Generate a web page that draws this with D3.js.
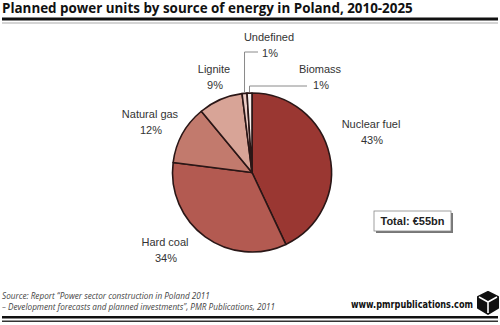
<!DOCTYPE html>
<head>
    <meta charset="utf-8">
    <title>Planned power units by source of energy in Poland</title>
    <style>
        body { margin: 0; background: #fff; }
        text { font-family: "Liberation Sans", Arial, sans-serif; }
    </style>
    <script src="https://d3js.org/d3.v7.min.js"></script>
</head>
<body>
    <script>
        var categories = ["Nuclear fuel", "Hard coal", "Natural gas", "Lignite", "Undefined", "Biomass"];
        var shares = [43, 34, 12, 9, 1, 1];
        var colors = ["#9a3732", "#b35a51", "#c27a6d", "#d8a497", "#edcdc6", "#f8f0ee"];
        // label anchor (centre of the two text lines)
        var labelPos = [[371, 128], [165, 246], [150, 118], [214, 73], [269, 41], [320, 73]];
        var leader = [false, false, false, false, [258, 52], [307, 86]];

        var width = 500, height = 325;
        var cx = 252, cy = 172.5, r = 79.5;

        var svg = d3.select("body")
            .append("svg")
            .attr("width", width)
            .attr("height", height);

        // title + rules
        svg.append("text")
            .attr("x", 2)
            .attr("y", 13)
            .style("font-family", "'Open Sans', sans-serif")
            .style("font-weight", "bold")
            .style("font-size", "13.4px")
            .attr("fill", "#111")
            .text("Planned power units by source of energy in Poland, 2010-2025");

        svg.append("rect").attr("x", 2).attr("y", 17.5).attr("width", 496).attr("height", 3).attr("fill", "#111");
        svg.append("rect").attr("x", 2).attr("y", 22.5).attr("width", 496).attr("height", 1).attr("fill", "#aaa");

        var data = categories.map(function (c, i) {
            return { name: c, value: shares[i], color: colors[i], pos: labelPos[i], leader: leader[i] };
        });

        var pie = d3.pie()
            .value(function (d) { return d.value; })
            .sort(null);

        var arc = d3.arc()
            .innerRadius(0)
            .outerRadius(r);

        var plot = svg.append("g")
            .attr("transform", "translate(" + cx + "," + cy + ")");

        var arcs = pie(data);

        plot.selectAll("path")
            .data(arcs)
            .enter()
            .append("path")
            .attr("d", arc)
            .attr("fill", function (d) { return d.data.color; })
            .attr("stroke", "#2a1616")
            .attr("stroke-width", 1.6)
            .attr("stroke-linejoin", "round");

        // leader lines for the small slices
        arcs.forEach(function (d) {
            if (!d.data.leader) return;
            var a = (d.startAngle + d.endAngle) / 2;
            var x0 = cx + r * Math.sin(a), y0 = cy - r * Math.cos(a);
            var end = d.data.leader;
            svg.append("polyline")
                .attr("points", [[x0, y0 - 1], [x0, end[1]], [end[0], end[1]]].map(function (p) { return p.join(","); }).join(" "))
                .attr("fill", "none")
                .attr("stroke", "#8a8a8a")
                .attr("stroke-width", 1);
        });

        var labels = svg.append("g");
        data.forEach(function (d) {
            var t = labels.append("text")
                .attr("text-anchor", "middle")
                .attr("fill", "#333")
                .style("font-size", "11px");
            t.append("tspan").attr("x", d.pos[0]).attr("y", d.pos[1]).text(d.name);
            t.append("tspan").attr("x", d.pos[0] + 1).attr("y", d.pos[1] + 15.5).text(d.value + "%");
        });

        // total box
        svg.append("rect").attr("x", 376).attr("y", 213).attr("width", 77).attr("height", 20).attr("fill", "#777");
        svg.append("rect").attr("x", 374).attr("y", 211).attr("width", 77).attr("height", 20)
            .attr("fill", "#fff").attr("stroke", "#888").attr("stroke-width", 0.8);
        svg.append("text")
            .attr("x", 412.5)
            .attr("y", 225)
            .attr("text-anchor", "middle")
            .style("font-weight", "bold")
            .style("font-size", "11px")
            .attr("fill", "#222")
            .text("Total: \u20ac55bn");

        // source
        var src = svg.append("text")
            .style("font-family", "'Open Sans', sans-serif")
            .style("font-style", "italic")
            .style("font-size", "8.2px")
            .attr("fill", "#444");
        src.append("tspan").attr("x", 2).attr("y", 299)
            .text("Source: Report \u201cPower sector construction in Poland 2011");
        src.append("tspan").attr("x", 2).attr("y", 310)
            .text("\u2013 Development forecasts and planned investments\u201d, PMR Publications, 2011");

        // url + logo
        svg.append("text")
            .attr("x", 351)
            .attr("y", 308)
            .attr("textLength", 122)
            .attr("lengthAdjust", "spacingAndGlyphs")
            .style("font-family", "'DejaVu Sans', Verdana, sans-serif")
            .style("font-weight", "bold")
            .style("font-size", "10px")
            .attr("fill", "#111")
            .text("www.pmrpublications.com");

        var logo = svg.append("g").attr("transform", "translate(488,303)");
        logo.append("path")
            .attr("d", "M0,-11 L10,-6 L10,5 L0,11 L-10,5 L-10,-6 Z")
            .attr("fill", "#111").attr("stroke", "#111").attr("stroke-width", 2).attr("stroke-linejoin", "round");
        logo.append("path")
            .attr("d", "M-9,-6 L0,-1 L9,-6 M0,-1 L0,10")
            .attr("fill", "none").attr("stroke", "#fff").attr("stroke-width", 1.6);

        svg.append("rect").attr("x", 2).attr("y", 316).attr("width", 496).attr("height", 2.5).attr("fill", "#111");
        svg.append("rect").attr("x", 2).attr("y", 320.5).attr("width", 496).attr("height", 1.5).attr("fill", "#333");
    </script>
</body>
